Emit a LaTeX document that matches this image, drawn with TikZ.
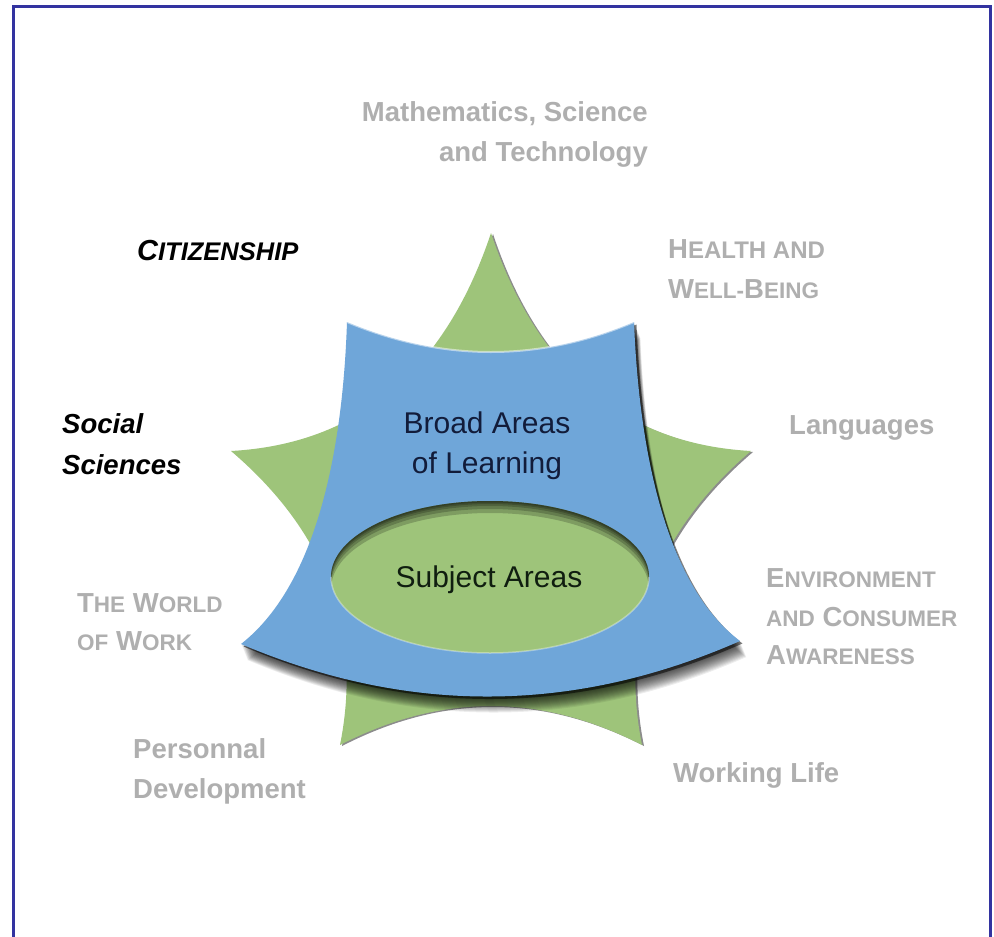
\documentclass[tikz,border=0pt]{standalone}
\usepackage{fontspec}
\setmainfont{Liberation Sans}
\usetikzlibrary{positioning}
\definecolor{framecol}{RGB}{51,51,160}
\definecolor{stargreen}{RGB}{158,196,122}
\definecolor{bandblue}{RGB}{111,166,217}
\definecolor{labelgray}{RGB}{175,175,175}
\definecolor{navytext}{RGB}{18,28,58}
\definecolor{greentext}{RGB}{16,30,16}
\newcommand\bigsc[1]{{\fontsize{27.5}{40}\selectfont #1}}
\newcommand\smsc[1]{{\fontsize{22.5}{40}\selectfont #1}}
\newcommand\starpath{(491,233) .. controls (537,371) and (624,444) .. (751,451) .. controls (656,532) and (619,630) .. (642,745) .. controls (541,693) and (441,693) .. (340,745) .. controls (363,630) and (326,532) .. (231,451) .. controls (358,444) and (445,371) .. (491,233) -- cycle}
\newcommand\bandpath{(347,322) .. controls (443,362) and (539,362) .. (634,322) .. controls (640,470) and (672,590) .. (740,641) .. controls (574,714) and (408,715) .. (241,644) .. controls (310,590) and (342,470) .. (347,322) -- cycle}
\begin{document}
\begin{tikzpicture}[x=1pt,y=-1pt,
    graylabel/.style={inner sep=0pt,align=left,text=labelgray,font=\bfseries\fontsize{27.5}{40}\selectfont},
    blacklabel/.style={inner sep=0pt,align=left,text=black,font=\bfseries\itshape\fontsize{27.5}{41}\selectfont},
    bandtext/.style={inner sep=0pt,align=center,font=\fontsize{30}{40}\selectfont}]
  \useasboundingbox (0,0) rectangle (994,937);
  \fill[white] (0,0) rectangle (994,937);
  \draw[framecol,line width=3] (13,950) -- (13,6) -- (990,6) -- (990,950);

  \fill[black,opacity=0.45,shift={(2,1)}] \starpath;
  \fill[stargreen] \starpath;
  \foreach \d in {1,2,...,16}
    \fill[black,opacity=0.07,shift={(0.4*\d,\d)}] \bandpath;
  \fill[black,opacity=0.5,shift={(2.5,2.5)}] \bandpath;
  \fill[bandblue] \bandpath;
  \draw[white,opacity=0.5,line width=2] (347,322) .. controls (443,362) and (539,362) .. (634,322);
  \fill[stargreen] (490,577) ellipse [x radius=159,y radius=76];
  \begin{scope}
    \clip (490,577) ellipse [x radius=159,y radius=76];
    \foreach \d in {1.5,3,5,8,12}
      \fill[black,opacity=0.2,even odd rule] (300,480) rectangle (680,680) (490,577+\d) ellipse [x radius=159,y radius=76];
  \end{scope}
  \draw[white,opacity=0.35,line width=1.5] (649,577) arc[start angle=0,end angle=180,x radius=159,y radius=76];

  \node[bandtext,text=navytext] (broad) at (487,446) {Broad Areas\\of Learning};
  \node[bandtext,text=greentext] (subject) at (489,580) {Subject Areas};

  \node[graylabel,align=right,anchor=east] (math) at (648,134) {Mathematics, Science\\and Technology};
  \node[blacklabel,anchor=west] (citizen) at (137,251) {{\fontsize{29}{40}\selectfont C}{\fontsize{25.5}{40}\selectfont ITIZENSHIP}};
  \node[graylabel,anchor=west] (health) at (668,269) {\bigsc{H}{\fontsize{24}{40}\selectfont EALTH AND}\\\bigsc{W}\smsc{ELL-}\bigsc{B}\smsc{EING}};
  \node[blacklabel,anchor=west] (social) at (62,444) {Social\\Sciences};
  \node[graylabel,anchor=west] (lang) at (789,428) {Languages};
  \node[graylabel,anchor=west,font=\bfseries\fontsize{27.5}{38}\selectfont] (world) at (77,622) {\bigsc{T}\smsc{HE} \bigsc{W}\smsc{ORLD}\\\smsc{OF} \bigsc{W}\smsc{ORK}};
  \node[graylabel,anchor=west,font=\bfseries\fontsize{27.5}{38.5}\selectfont] (env) at (766,617) {\bigsc{E}\smsc{NVIRONMENT}\\\smsc{AND} \bigsc{C}\smsc{ONSUMER}\\\bigsc{A}\smsc{WARENESS}};
  \node[graylabel,anchor=west] (pers) at (133,771) {Personnal\\Development};
  \node[graylabel,anchor=west] (work) at (673,775) {Working Life};
\end{tikzpicture}
\end{document}
